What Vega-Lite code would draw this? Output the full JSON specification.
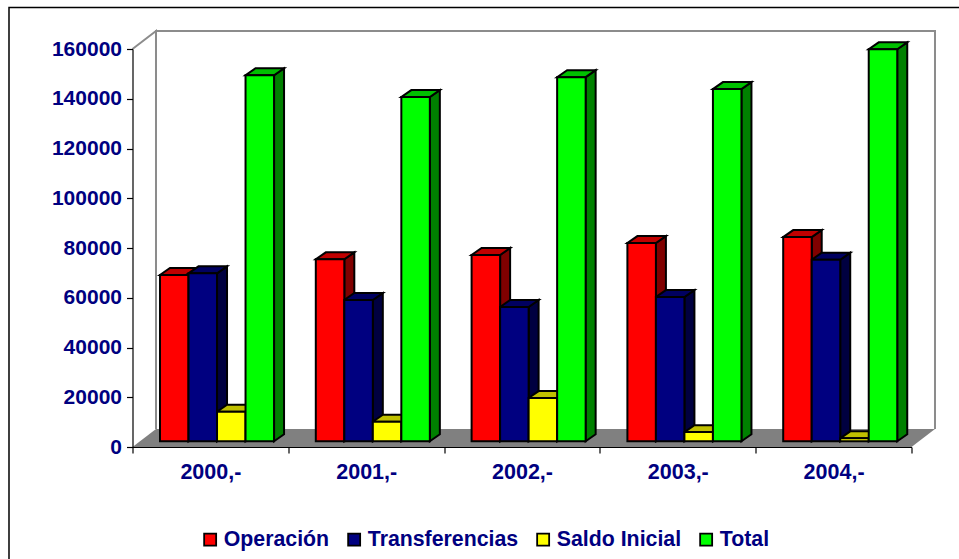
{
"$schema":"https://vega.github.io/schema/vega-lite/v6.json",
"width":779,"height":398,"autosize":{"type":"none"},
"padding":{"left":132.5,"top":49,"right":47.5,"bottom":112},
"background":"white",
"datasets":{"rows":[
{"year":"2000,-","series":"Operación","value":66850},
{"year":"2000,-","series":"Transferencias","value":67530},
{"year":"2000,-","series":"Saldo Inicial","value":11900},
{"year":"2000,-","series":"Total","value":147150},
{"year":"2001,-","series":"Operación","value":73170},
{"year":"2001,-","series":"Transferencias","value":56800},
{"year":"2001,-","series":"Saldo Inicial","value":7880},
{"year":"2001,-","series":"Total","value":138400},
{"year":"2002,-","series":"Operación","value":74900},
{"year":"2002,-","series":"Transferencias","value":54000},
{"year":"2002,-","series":"Saldo Inicial","value":17400},
{"year":"2002,-","series":"Total","value":146400},
{"year":"2003,-","series":"Operación","value":79700},
{"year":"2003,-","series":"Transferencias","value":58000},
{"year":"2003,-","series":"Saldo Inicial","value":3700},
{"year":"2003,-","series":"Total","value":141600},
{"year":"2004,-","series":"Operación","value":82100},
{"year":"2004,-","series":"Transferencias","value":73000},
{"year":"2004,-","series":"Saldo Inicial","value":1200},
{"year":"2004,-","series":"Total","value":157600}
]},
"data":{"name":"rows"},
"transform":[
{"calculate":"indexof(['2000,-','2001,-','2002,-','2003,-','2004,-'],datum.year)+0.1765+0.183*indexof(['Operación','Transferencias','Saldo Inicial','Total'],datum.series)","as":"x0"},
{"calculate":"datum.x0+0.183","as":"x1"},
{"calculate":"2290","as":"base"},
{"calculate":"datum.base+datum.value","as":"top"},
{"calculate":"datum.year+datum.series","as":"key"}
],
"layer":[
{"mark":{"type":"rule","opacity":0},
 "encoding":{
  "x":{"field":"year","type":"nominal","title":null,"scale":{"paddingInner":0,"paddingOuter":0},
   "axis":{"orient":"bottom","tickBand":"extent","labelAngle":0,"labelFont":"Liberation Sans","labelFontWeight":"bold","labelFontSize":21.5,"labelColor":"#000080","labelPadding":8,"tickColor":"black","tickSize":6,"domainColor":"black","domainWidth":1.2,"tickWidth":1.2,"zindex":1}},
  "y":{"field":"value","type":"quantitative","title":null,"scale":{"domain":[0,160000],"nice":false},
   "axis":{"orient":"left","values":[0,20000,40000,60000,80000,100000,120000,140000,160000],"format":"d","grid":false,"labelFont":"Liberation Sans","labelFontWeight":"bold","labelFontSize":21,"labelColor":"#000080","labelPadding":5,"tickColor":"black","tickSize":6,"domainColor":"black","domainWidth":1.2,"tickWidth":1.2,"zindex":1}}
 }},
{"data":{"values":[{"p":0,"x":-0.7927,"y":-45000},{"p":1,"x":-0.7927,"y":176700},{"p":2,"x":5.31,"y":176700}]},
 "mark":{"type":"line","color":"black","strokeWidth":1.5,"clip":false},
 "encoding":{"x":{"field":"x","type":"quantitative","scale":{"domain":[0,5]},"axis":null},
  "y":{"field":"y","type":"quantitative","axis":null},"order":{"field":"p"}}},
{"data":{"values":[{"p":0,"x":0,"y":160000},{"p":1,"x":0.1508,"y":167236},{"p":2,"x":0.1508,"y":7236},{"p":3,"x":0.1508,"y":167236},{"p":4,"x":5.1508,"y":167236},{"p":5,"x":5.1508,"y":7236}]},
 "mark":{"type":"line","color":"#8c8c8c","strokeWidth":2},
 "encoding":{"x":{"field":"x","type":"quantitative","scale":{"domain":[0,5]},"axis":null},
  "y":{"field":"y","type":"quantitative","axis":null},"order":{"field":"p"}}},
{"data":{"values":[{"x":0,"low":0,"high":0},{"x":0.1508,"low":0,"high":7236},{"x":5,"low":0,"high":7236},{"x":5.1508,"low":7236,"high":7236}]},
 "mark":{"type":"area","color":"#808080","orient":"vertical"},
 "encoding":{"x":{"field":"x","type":"quantitative","scale":{"domain":[0,5]},"axis":null},
  "y":{"field":"low","type":"quantitative","axis":null,"stack":null},"y2":{"field":"high"}}},
{"transform":[{"calculate":"[0,1]","as":"p"},{"flatten":["p"]},
  {"calculate":"datum.x1+datum.p*0.0642","as":"sx"},
  {"calculate":"datum.base+datum.p*2800","as":"sl"},
  {"calculate":"datum.top+datum.p*2800","as":"sh"}],
 "mark":{"type":"area","orient":"vertical","stroke":"black","strokeWidth":2,"strokeJoin":"miter"},
 "encoding":{"x":{"field":"sx","type":"quantitative","scale":{"domain":[0,5]},"axis":null},
  "y":{"field":"sl","type":"quantitative","axis":null,"stack":null},"y2":{"field":"sh"},
  "detail":{"field":"key"},
  "fill":{"field":"series","type":"nominal","legend":null,"scale":{"domain":["Operación","Transferencias","Saldo Inicial","Total"],"range":["#800000","#000040","#808000","#008000"]}}}},
{"transform":[{"calculate":"[0,1,2,3]","as":"p"},{"flatten":["p"]},
  {"calculate":"[datum.x0,datum.x0+0.0642,datum.x1,datum.x1+0.0642][datum.p]","as":"tx"},
  {"calculate":"datum.p==3?datum.top+2800:datum.top","as":"tl"},
  {"calculate":"datum.p==0?datum.top:datum.top+2800","as":"th"}],
 "mark":{"type":"area","orient":"vertical","stroke":"black","strokeWidth":2,"strokeJoin":"miter"},
 "encoding":{"x":{"field":"tx","type":"quantitative","scale":{"domain":[0,5]},"axis":null},
  "y":{"field":"tl","type":"quantitative","axis":null,"stack":null},"y2":{"field":"th"},
  "detail":{"field":"key"},
  "fill":{"field":"series","type":"nominal","legend":null,"scale":{"domain":["Operación","Transferencias","Saldo Inicial","Total"],"range":["#c00000","#000060","#c0c000","#00c000"]}}}},
{"mark":{"type":"rect","stroke":"black","strokeWidth":2},
 "encoding":{"x":{"field":"x0","type":"quantitative","scale":{"domain":[0,5]},"axis":null},"x2":{"field":"x1"},
  "y":{"field":"base","type":"quantitative","axis":null},"y2":{"field":"top"},
  "fill":{"field":"series","type":"nominal","scale":{"domain":["Operación","Transferencias","Saldo Inicial","Total"],"range":["#ff0000","#000080","#ffff00","#00ff00"]},
   "legend":{"title":null,"orient":"none","legendX":67,"legendY":480,"direction":"horizontal","columns":4,"symbolType":"square","symbolSize":144,"symbolStrokeColor":"black","symbolStrokeWidth":1.8,"labelFont":"Liberation Sans","labelFontWeight":"bold","labelFontSize":21.3,"labelColor":"#000080","labelLimit":300,"columnPadding":14,"labelOffset":3,
    "labelExpr":"datum.label=='Transferencias'?datum.label+'\u00a0\u00a0\u00a0':datum.label"}}}}
],
"resolve":{"scale":{"x":"independent","fill":"independent"},"axis":{"y":"independent"}},
"config":{"view":{"stroke":null}}
}
